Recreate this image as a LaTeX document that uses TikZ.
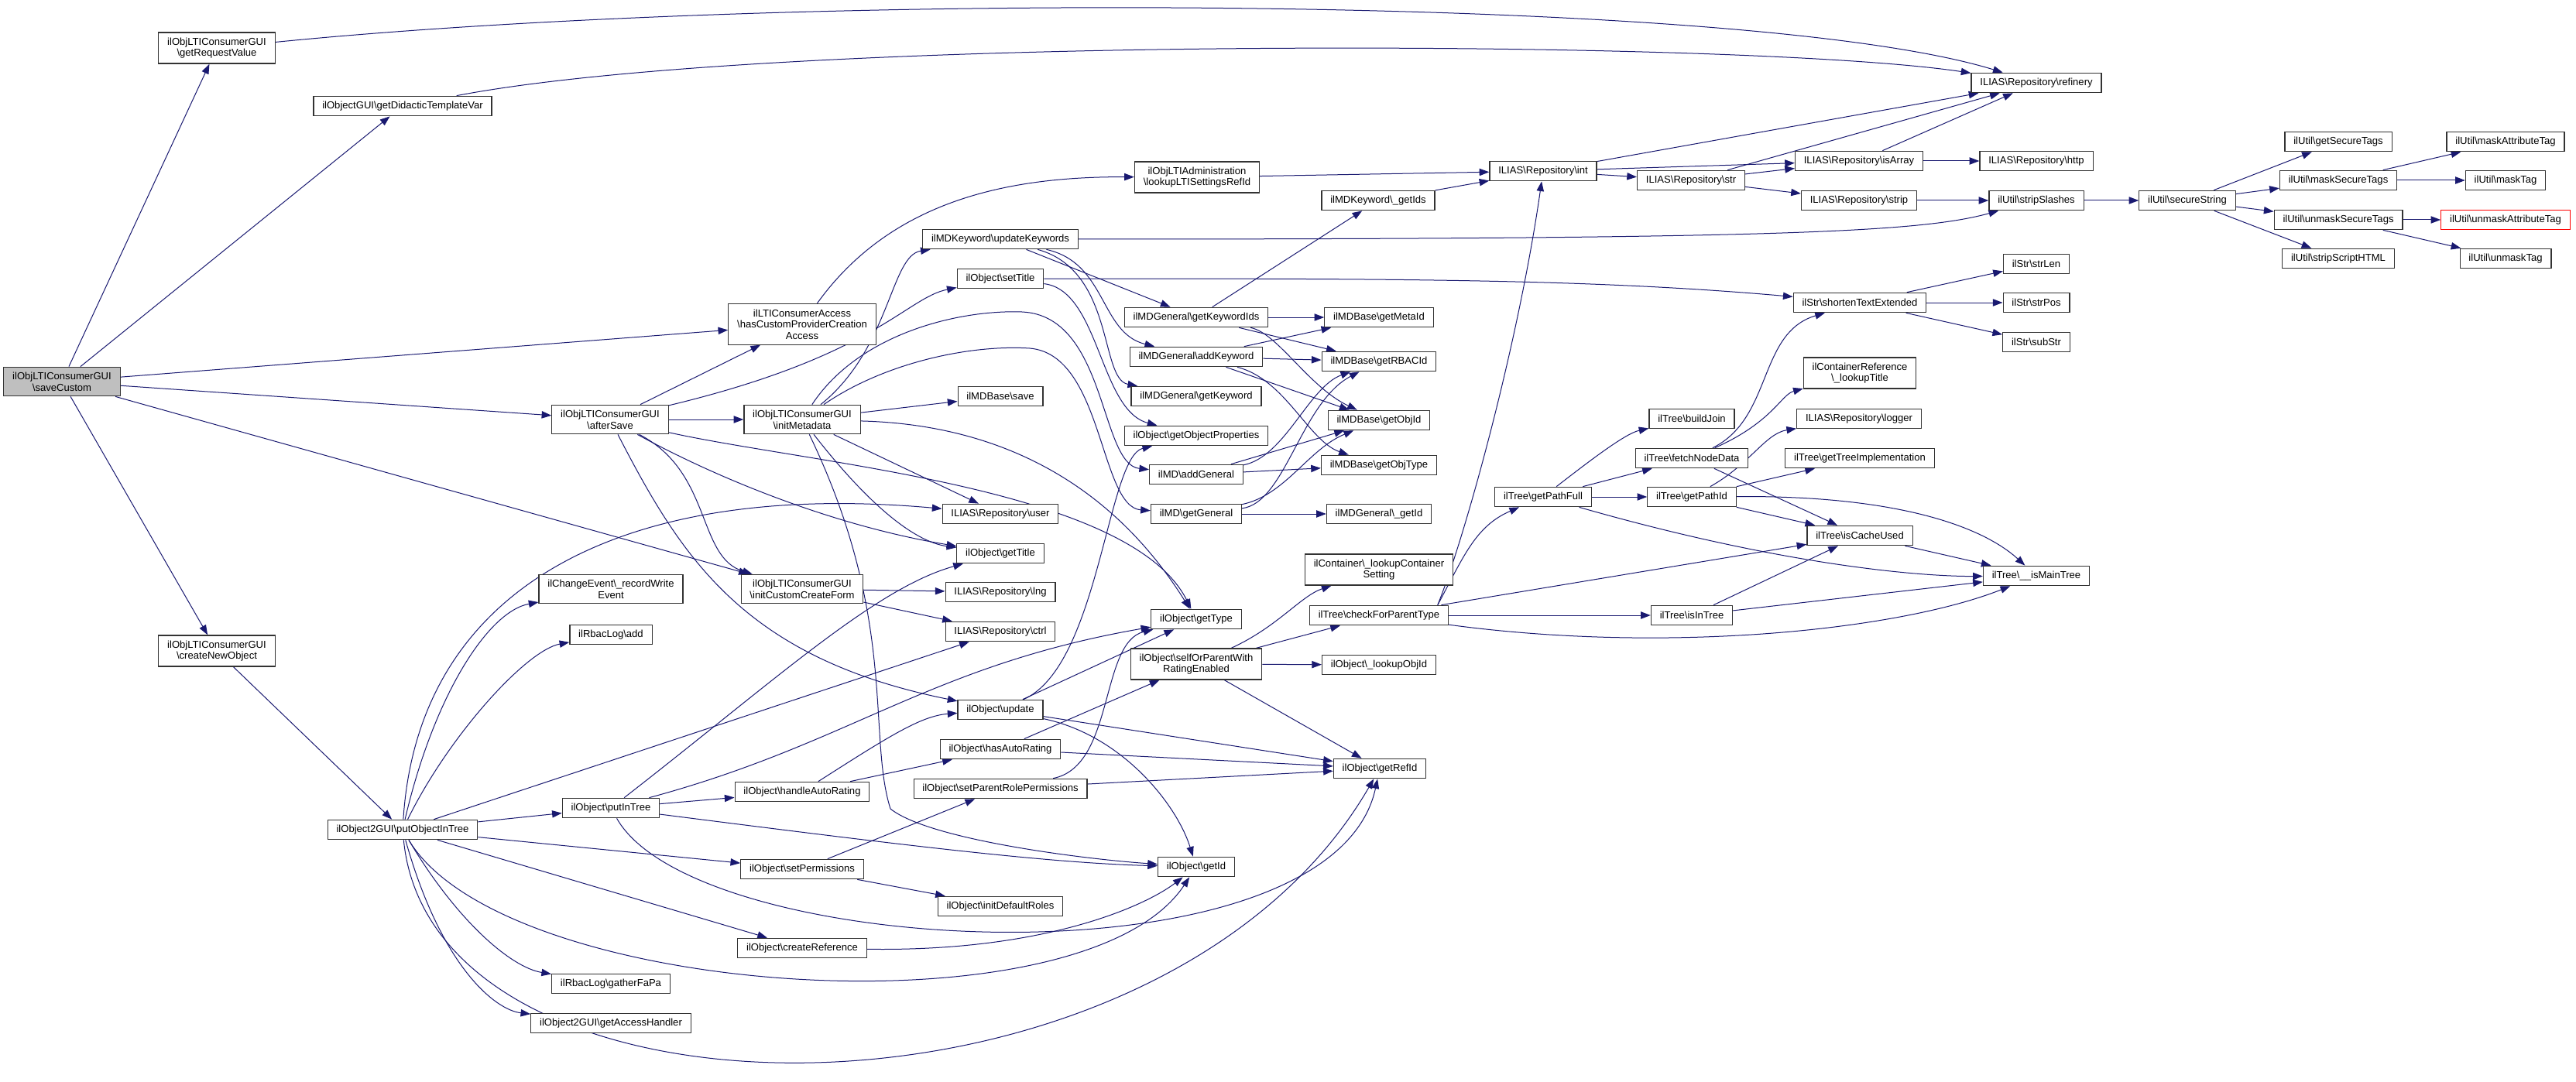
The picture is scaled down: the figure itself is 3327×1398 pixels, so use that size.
\documentclass[tikz,border=0pt]{standalone}
\usepackage{fontspec}
\setmainfont{Liberation Sans}
\usepackage{tikz}
\usetikzlibrary{arrows.meta,backgrounds}
\newcommand{\bsl}{\textbackslash}
\definecolor{cedge}{HTML}{191970}
\definecolor{cbox}{HTML}{333333}
\definecolor{croot}{HTML}{BFBFBF}
\definecolor{cmiss}{HTML}{FF0000}
\tikzset{
  fn/.style={draw=cbox, line width=0.9pt, fill=white, align=center, inner xsep=8.5pt, inner ysep=5pt, minimum height=19.1pt, font=\fontsize{9.8}{11}\selectfont},
  root/.style={fn, fill=croot},
  miss/.style={fn, draw=cmiss},
  pre/.style={-{Triangle[length=9.5pt,width=7pt]}, draw=cedge, line width=0.75pt},
}

\begin{document}
\begin{tikzpicture}[x=0.75pt,y=-0.75pt]
\useasboundingbox (0,0) rectangle (3327,1398);
% callers
\node[root] (sc) at (80,493) {ilObjLTIConsumerGUI\\\bsl saveCustom};
\node[fn] (grv) at (280,62) {ilObjLTIConsumerGUI\\\bsl getRequestValue};
\node[fn] (cno) at (280,841) {ilObjLTIConsumerGUI\\\bsl createNewObject};
\node[fn] (gdtv) at (520,137) {ilObjectGUI\bsl getDidacticTemplateVar};
\node[fn] (poit) at (520,1072) {ilObject2GUI\bsl putObjectInTree};
\node[fn] (as) at (788,542) {ilObjLTIConsumerGUI\\\bsl afterSave};
\node[fn] (rwe) at (789,761) {ilChangeEvent\bsl\_recordWrite\\Event};
\node[fn] (rla) at (789,820) {ilRbacLog\bsl add};
\node[fn] (pit) at (789,1044) {ilObject\bsl putInTree};
\node[fn] (gfp) at (789,1271) {ilRbacLog\bsl gatherFaPa};
\node[fn] (gah) at (789,1322) {ilObject2GUI\bsl getAccessHandler};
\node[fn] (hcp) at (1036,419) {ilLTIConsumerAccess\\\bsl hasCustomProviderCreation\\Access};
\node[fn] (im) at (1036,542) {ilObjLTIConsumerGUI\\\bsl initMetadata};
\node[fn] (iccf) at (1036,761) {ilObjLTIConsumerGUI\\\bsl initCustomCreateForm};
\node[fn] (har) at (1036,1023) {ilObject\bsl handleAutoRating};
\node[fn] (sp) at (1036,1123) {ilObject\bsl setPermissions};
\node[fn] (cr) at (1036,1225) {ilObject\bsl createReference};
% middle columns
\node[fn] (uk) at (1292,309) {ilMDKeyword\bsl updateKeywords};
\node[fn] (st) at (1292,360) {ilObject\bsl setTitle};
\node[fn] (mds) at (1292,512) {ilMDBase\bsl save};
\node[fn] (usr) at (1292,664) {ILIAS\bsl Repository\bsl user};
\node[fn] (gt) at (1292,715) {ilObject\bsl getTitle};
\node[fn] (lng) at (1292,765) {ILIAS\bsl Repository\bsl lng};
\node[fn] (ctrl) at (1292,816) {ILIAS\bsl Repository\bsl ctrl};
\node[fn] (upd) at (1292,917) {ilObject\bsl update};
\node[fn] (hasr) at (1292,968) {ilObject\bsl hasAutoRating};
\node[fn] (sprp) at (1292,1019) {ilObject\bsl setParentRolePermissions};
\node[fn] (idr) at (1292,1171) {ilObject\bsl initDefaultRoles};
\node[fn] (lls) at (1546,229) {ilObjLTIAdministration\\\bsl lookupLTISettingsRefId};
\node[fn] (gki) at (1545,410) {ilMDGeneral\bsl getKeywordIds};
\node[fn] (ak) at (1545,461) {ilMDGeneral\bsl addKeyword};
\node[fn] (gk) at (1545,512) {ilMDGeneral\bsl getKeyword};
\node[fn] (gop) at (1545,563) {ilObject\bsl getObjectProperties};
\node[fn] (ag) at (1545,613) {ilMD\bsl addGeneral};
\node[fn] (gg) at (1545,664) {ilMD\bsl getGeneral};
\node[fn] (gty) at (1545,800) {ilObject\bsl getType};
\node[fn] (sop) at (1545,858) {ilObject\bsl selfOrParentWith\\RatingEnabled};
\node[fn] (gid) at (1545,1120) {ilObject\bsl getId};
\node[fn] (kgi) at (1780,259) {ilMDKeyword\bsl\_getIds};
\node[fn] (gmi) at (1781,410) {ilMDBase\bsl getMetaId};
\node[fn] (grb) at (1781,467) {ilMDBase\bsl getRBACId};
\node[fn] (goi) at (1781,543) {ilMDBase\bsl getObjId};
\node[fn] (got) at (1781,601) {ilMDBase\bsl getObjType};
\node[fn] (mgi) at (1781,664) {ilMDGeneral\bsl\_getId};
\node[fn] (lcs) at (1781,736) {ilContainer\bsl\_lookupContainer\\Setting};
\node[fn] (cfpt) at (1781,795) {ilTree\bsl checkForParentType};
\node[fn] (loi) at (1781,859) {ilObject\bsl\_lookupObjId};
\node[fn] (grf) at (1782,993) {ilObject\bsl getRefId};
% right part
\node[fn] (int) at (1993,221) {ILIAS\bsl Repository\bsl int};
\node[fn] (gpf) at (1993,642) {ilTree\bsl getPathFull};
\node[fn] (str) at (2184,233) {ILIAS\bsl Repository\bsl str};
\node[fn] (bj) at (2185,541) {ilTree\bsl buildJoin};
\node[fn] (fnd) at (2185,592) {ilTree\bsl fetchNodeData};
\node[fn] (gpi) at (2185,642) {ilTree\bsl getPathId};
\node[fn] (iit) at (2185,795) {ilTree\bsl isInTree};
\node[fn] (arr) at (2401,208) {ILIAS\bsl Repository\bsl isArray};
\node[fn] (stp) at (2401,259) {ILIAS\bsl Repository\bsl strip};
\node[fn] (ste) at (2402,391) {ilStr\bsl shortenTextExtended};
\node[fn] (clt) at (2402,482) {ilContainerReference\\\bsl\_lookupTitle};
\node[fn] (lgr) at (2401,541) {ILIAS\bsl Repository\bsl logger};
\node[fn] (gti) at (2402,592) {ilTree\bsl getTreeImplementation};
\node[fn] (icu) at (2402,692) {ilTree\bsl isCacheUsed};
\node[fn] (ref) at (2630,107) {ILIAS\bsl Repository\bsl refinery};
\node[fn] (http) at (2630,208) {ILIAS\bsl Repository\bsl http};
\node[fn] (ss) at (2630,259) {ilUtil\bsl stripSlashes};
\node[fn] (sl) at (2630,341) {ilStr\bsl strLen};
\node[fn] (sps) at (2630,391) {ilStr\bsl strPos};
\node[fn] (sbs) at (2630,442) {ilStr\bsl subStr};
\node[fn] (imt) at (2630,744) {ilTree\bsl\_\_isMainTree};
\node[fn] (sec) at (2825,259) {ilUtil\bsl secureString};
\node[fn] (gst) at (3020,183) {ilUtil\bsl getSecureTags};
\node[fn] (mst) at (3020,233) {ilUtil\bsl maskSecureTags};
\node[fn] (ust) at (3020,284) {ilUtil\bsl unmaskSecureTags};
\node[fn] (ssh) at (3020,334) {ilUtil\bsl stripScriptHTML};
\node[fn] (mat) at (3236,183) {ilUtil\bsl maskAttributeTag};
\node[fn] (mt) at (3236,233) {ilUtil\bsl maskTag};
\node[miss] (uat) at (3236,284) {ilUtil\bsl unmaskAttributeTag};
\node[fn] (ut) at (3236,334) {ilUtil\bsl unmaskTag};

\begin{scope}[on background layer]
% saveCustom
\draw[pre] (sc) -- (grv);
\draw[pre] (sc) -- (gdtv);
\draw[pre] (sc) -- (hcp);
\draw[pre] (sc) -- (as);
\draw[pre] (sc) -- (iccf);
\draw[pre] (sc) -- (cno);
\draw[pre] (grv) .. controls (1000,-10) and (2250,-10) .. (ref);
\draw[pre] (gdtv) .. controls (1000,45) and (2250,50) .. (ref);
\draw[pre] (cno) -- (poit);
% afterSave
\draw[pre] (as) -- (hcp);
\draw[pre] (as) .. controls (1130,460) and (1170,385) .. (st);
\draw[pre] (as) -- (im);
\draw[pre] (as) .. controls (920,610) and (900,720) .. (iccf);
\draw[pre] (as) .. controls (930,620) and (1080,680) .. (gt);
\draw[pre] (as) .. controls (1050,600) and (1460,630) .. (gty);
\draw[pre] (as) .. controls (880,720) and (960,850) .. (upd);
\draw[pre] (hcp) .. controls (1150,260) and (1300,228) .. (lls);
\draw[pre] (lls) -- (int);
% initMetadata
\draw[pre] (im) .. controls (1150,450) and (1150,330) .. (uk);
\draw[pre] (im) -- (mds);
\draw[pre] (im) .. controls (1110,430) and (1240,400) .. (1320,403) .. controls (1430,408) and (1420,600) .. (ag);
\draw[pre] (im) .. controls (1140,470) and (1250,445) .. (1330,450) .. controls (1425,458) and (1420,655) .. (gg);
\draw[pre] (im) .. controls (1350,550) and (1470,680) .. (gty);
\draw[pre] (im) -- (usr);
\draw[pre] (im) .. controls (1120,650) and (1180,700) .. (gt);
\draw[pre] (im) .. controls (1160,800) and (1120,950) .. (1150,1045) .. controls (1200,1085) and (1400,1110) .. (gid);
% updateKeywords, setTitle
\draw[pre] (uk) -- (gki);
\draw[pre] (uk) .. controls (1430,340) and (1420,430) .. (ak);
\draw[pre] (uk) .. controls (1440,350) and (1420,490) .. (gk);
\draw[pre] (uk) .. controls (2300,309) and (2480,300) .. (ss);
\draw[pre] (st) .. controls (1800,360) and (2050,360) .. (ste);
\draw[pre] (st) .. controls (1420,375) and (1420,530) .. (gop);
% update
\draw[pre] (upd) .. controls (1420,860) and (1430,590) .. (gop);
\draw[pre] (upd) -- (gty);
\draw[pre] (upd) .. controls (1450,950) and (1520,1040) .. (gid);
\draw[pre] (upd) -- (grf);
% putInTree
\draw[pre] (pit) .. controls (1000,880) and (1130,760) .. (gt);
\draw[pre] (pit) .. controls (1100,960) and (1200,860) .. (gty);
\draw[pre] (pit) -- (har);
\draw[pre] (pit) .. controls (1150,1090) and (1350,1115) .. (gid);
\draw[pre] (pit) .. controls (900,1240) and (1720,1280) .. (grf);
% putObjectInTree
\draw[pre] (poit) .. controls (560,900) and (630,790) .. (rwe);
\draw[pre] (poit) .. controls (580,950) and (680,840) .. (rla);
\draw[pre] (poit) -- (pit);
\draw[pre] (poit) .. controls (540,760) and (800,620) .. (usr);
\draw[pre] (poit) -- (ctrl);
\draw[pre] (poit) -- (sp);
\draw[pre] (poit) -- (cr);
\draw[pre] (poit) .. controls (650,1290) and (1400,1340) .. (gid);
\draw[pre] (poit) .. controls (590,1190) and (660,1250) .. (gfp);
\draw[pre] (poit) .. controls (570,1250) and (640,1305) .. (gah);
\draw[pre] (poit) .. controls (560,1480) and (1500,1480) .. (grf);
\draw[pre] (iccf) -- (lng);
\draw[pre] (iccf) -- (ctrl);
% rating, permissions
\draw[pre] (har) .. controls (1150,950) and (1190,925) .. (upd);
\draw[pre] (har) -- (hasr);
\draw[pre] (hasr) -- (sop);
\draw[pre] (hasr) -- (grf);
\draw[pre] (sp) -- (sprp);
\draw[pre] (sp) -- (idr);
\draw[pre] (sprp) .. controls (1440,990) and (1420,830) .. (gty);
\draw[pre] (sprp) -- (grf);
\draw[pre] (cr) .. controls (1350,1230) and (1480,1170) .. (gid);
\draw[pre] (sop) .. controls (1650,810) and (1680,770) .. (lcs);
\draw[pre] (sop) -- (cfpt);
\draw[pre] (sop) -- (loi);
\draw[pre] (sop) -- (grf);
% metadata
\draw[pre] (gki) -- (gmi);
\draw[pre] (gki) -- (grb);
\draw[pre] (gki) .. controls (1650,430) and (1690,500) .. (goi);
\draw[pre] (gki) -- (kgi);
\draw[pre] (ak) -- (gmi);
\draw[pre] (ak) -- (grb);
\draw[pre] (ak) -- (goi);
\draw[pre] (ak) .. controls (1660,490) and (1690,570) .. (got);
\draw[pre] (ag) .. controls (1660,590) and (1690,500) .. (grb);
\draw[pre] (ag) -- (goi);
\draw[pre] (ag) -- (got);
\draw[pre] (gg) .. controls (1660,650) and (1680,520) .. (grb);
\draw[pre] (gg) .. controls (1660,640) and (1690,580) .. (goi);
\draw[pre] (gg) -- (mgi);
\draw[pre] (kgi) -- (int);
% repository
\draw[pre] (int) -- (ref);
\draw[pre] (int) -- (arr);
\draw[pre] (int) -- (str);
\draw[pre] (str) -- (ref);
\draw[pre] (str) -- (arr);
\draw[pre] (str) -- (stp);
\draw[pre] (arr) -- (ref);
\draw[pre] (arr) -- (http);
\draw[pre] (stp) -- (ss);
\draw[pre] (ss) -- (sec);
\draw[pre] (sec) -- (gst);
\draw[pre] (sec) -- (mst);
\draw[pre] (sec) -- (ust);
\draw[pre] (sec) -- (ssh);
\draw[pre] (mst) -- (mat);
\draw[pre] (mst) -- (mt);
\draw[pre] (ust) -- (uat);
\draw[pre] (ust) -- (ut);
\draw[pre] (ste) -- (sl);
\draw[pre] (ste) -- (sps);
\draw[pre] (ste) -- (sbs);
% tree
\draw[pre] (cfpt.10) .. controls (1890,700) and (1960,450) .. (int);
\draw[pre] (cfpt.10) .. controls (1890,720) and (1905,680) .. (gpf);
\draw[pre] (cfpt) -- (icu);
\draw[pre] (cfpt) -- (iit);
\draw[pre] (cfpt) .. controls (2150,845) and (2450,815) .. (imt);
\draw[pre] (iit) -- (icu);
\draw[pre] (iit) -- (imt);
\draw[pre] (gpf) .. controls (2060,590) and (2100,560) .. (bj);
\draw[pre] (gpf) -- (fnd);
\draw[pre] (gpf) -- (gpi);
\draw[pre] (gpf) .. controls (2300,730) and (2480,745) .. (imt);
\draw[pre] (fnd) .. controls (2290,540) and (2270,430) .. (ste);
\draw[pre] (fnd) .. controls (2290,545) and (2300,510) .. (clt);
\draw[pre] (fnd) -- (icu);
\draw[pre] (gpi) .. controls (2260,600) and (2280,560) .. (lgr);
\draw[pre] (gpi) -- (gti);
\draw[pre] (gpi) -- (icu);
\draw[pre] (gpi) .. controls (2450,640) and (2560,680) .. (imt);
\draw[pre] (icu) -- (imt);
\end{scope}
\end{tikzpicture}
\end{document}
